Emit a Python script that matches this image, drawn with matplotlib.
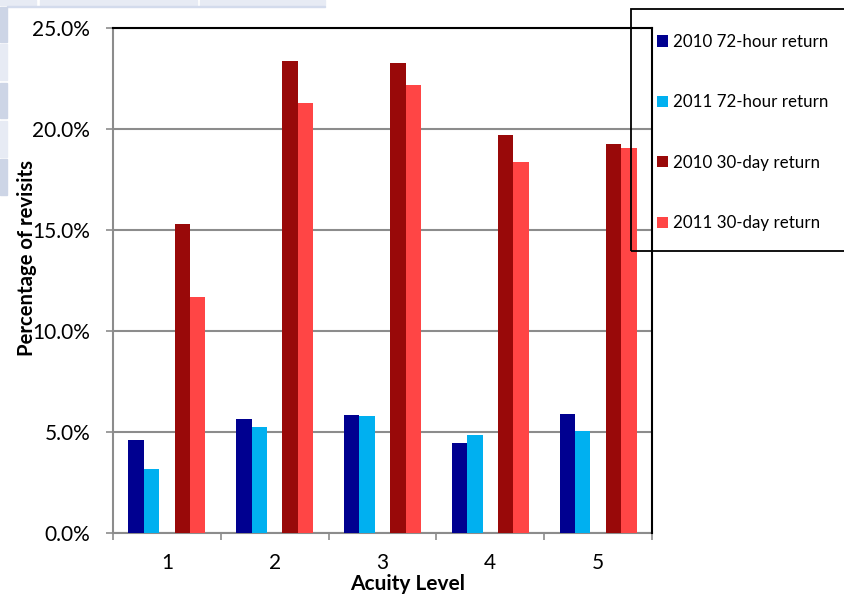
import matplotlib
matplotlib.use("Agg")
import matplotlib.pyplot as plt
from matplotlib.patches import Rectangle, Patch
import numpy as np

plt.rcParams['font.family'] = ['Lato', 'DejaVu Sans']

# Acuity levels and revisit percentages per series
levels = [1, 2, 3, 4, 5]
level_labels = ['1', '2', '3', '4', '5']
series_names = ['2010 72-hour return', '2011 72-hour return',
                '2010 30-day return', '2011 30-day return']
r72_2010 = [4.62, 5.64, 5.86, 4.45, 5.89]
r72_2011 = [3.18, 5.25, 5.81, 4.87, 5.06]
r30_2010 = [15.30, 23.38, 23.28, 19.70, 19.26]
r30_2011 = [11.70, 21.30, 22.19, 18.37, 19.09]
y_ticks = [0, 5, 10, 15, 20, 25]
y_tick_labels = ['0.0%', '5.0%', '10.0%', '15.0%', '20.0%', '25.0%']

colors = ['#000090', '#00B0F0', '#990909', '#FF4545']
series = [r72_2010, r72_2011, r30_2010, r30_2011]
slots = [-2, -1, 1, 2]          # slot 0 is left empty between the two pairs
bar_w = 1.0 / 7.0

W, H = 844, 595
fig = plt.figure(figsize=(W / 100, H / 100), dpi=100)

# Faint spreadsheet cells behind the chart
cell_light = '#e7ebf4'
cell_dark = '#cdd5e6'
for x0, x1 in [(0, 36), (40, 197), (200, 325)]:
    fig.patches.append(Rectangle((x0 / W, 1 - 5 / H), (x1 - x0) / W, 5 / H,
                                 transform=fig.transFigure, color=cell_light, zorder=0))
fig.patches.append(Rectangle((7 / W, 1 - 7 / H), (325 - 7) / W, 1.5 / H,
                             transform=fig.transFigure, color='#d3dbec', zorder=0))
for (y0, y1), c in zip([(7, 42), (44, 80), (83, 118), (121, 157), (159, 195)],
                       [cell_dark, cell_light, cell_dark, cell_light, cell_dark]):
    fig.patches.append(Rectangle((0, 1 - y1 / H), 7 / W, (y1 - y0) / H,
                                 transform=fig.transFigure, color=c, zorder=0))

ax = fig.add_axes([113 / W, 1 - 533.3 / H, 539 / W, 505 / H])
ax.set_facecolor('none')

x = np.array(levels, dtype=float)
handles = []
for vals, s, c, name in zip(series, slots, colors, series_names):
    ax.bar(x + s * bar_w, vals, width=bar_w, color=c, edgecolor='none',
           zorder=3, label=name)
    handles.append(Patch(facecolor=c, edgecolor='none'))

ax.set_xlim(0.5, 5.5)
ax.set_ylim(0, 25)

grid_c = '#8c8c8c'
ax.set_yticks(y_ticks)
ax.set_yticklabels(y_tick_labels, fontsize=15)
ax.yaxis.grid(True, color=grid_c, linewidth=1.5, zorder=1)
ax.set_axisbelow(True)
ax.tick_params(axis='y', direction='out', length=5, width=1.2, color=grid_c, pad=11.5)

ax.set_xticks(levels)
ax.set_xticklabels(level_labels, fontsize=15)
ax.set_xticks(np.arange(0.5, 6.0, 1.0), minor=True)
ax.tick_params(axis='x', which='major', length=0, pad=14.5)
ax.tick_params(axis='x', which='minor', direction='out', length=5, width=1.2, color=grid_c)

for side in ['left', 'bottom']:
    ax.spines[side].set_color(grid_c)
    ax.spines[side].set_linewidth(1.5)
for side in ['top', 'right']:
    ax.spines[side].set_color('black')
    ax.spines[side].set_linewidth(1.5)
    ax.spines[side].set_zorder(4)

ax.set_ylabel('Percentage of revisits', fontsize=14.6, fontweight='bold', va='center')
ax.yaxis.set_label_coords((27 - 113) / 539, (533.3 - 258) / 505)
ax.set_xlabel('Acuity Level', fontsize=15, fontweight='bold', va='baseline')
ax.xaxis.set_label_coords((408 - 113) / 539, (533.3 - 590.5) / 505)

# Legend with its own frame running past the right edge
fig.patches.append(Rectangle((631 / W, 1 - 251 / H), (860 - 631) / W, (251 - 9) / H,
                             transform=fig.transFigure, fill=False, edgecolor='black',
                             linewidth=1.3, zorder=5))
leg = ax.legend(handles, series_names, loc='upper left',
                bbox_to_anchor=(657 / W, 1 - 34 / H), bbox_transform=fig.transFigure,
                frameon=False, fontsize=12.2, handlelength=0.65, handleheight=0.65,
                handletextpad=0.3, labelspacing=2.62, borderaxespad=0, borderpad=0)

fig.savefig('out.png', dpi=100)
